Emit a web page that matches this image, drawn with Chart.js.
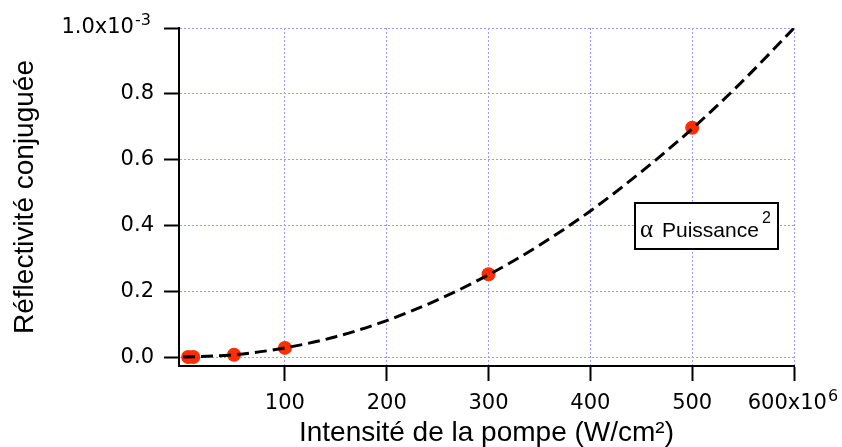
<!DOCTYPE html>
<html>
<head>
<meta charset="utf-8">
<script src="https://cdn.jsdelivr.net/npm/chart.js@4/dist/chart.umd.min.js"></script>
<style>
    html, body { margin: 0; padding: 0; background: #ffffff; }
    #chart { display: block; }
</style>
</head>
<body>
<canvas id="chart" width="842" height="447"></canvas>
<script>
// Measured points (x in 10^6 W/cm2, y in 10^-3)
const pointX = [5, 10, 50, 100, 300, 500];
const pointY = [0.0002, 0.0004, 0.007, 0.028, 0.252, 0.697];

// Dashed "proportional to power squared" curve
const curveX = [0, 50, 100, 150, 200, 250, 300, 350, 400, 450, 500, 550, 600];
const curveY = [0, 0.007, 0.028, 0.062, 0.111, 0.174, 0.25, 0.34, 0.444, 0.563, 0.694, 0.84, 1.0];

// Axis ticks (exponents are drawn raised next to the last label)
const xTicks = [100, 200, 300, 400, 500, 600];
const xTickLabels = ['100', '200', '300', '400', '500', '600x10'];
const xExponent = '6';
const yTicks = [0, 0.2, 0.4, 0.6, 0.8, 1.0];
const yTickLabels = ['0.0', '0.2', '0.4', '0.6', '0.8', '1.0x10'];
const yExponent = '-3';

const COLORS = {
    marker: 'rgb(255, 45, 0)',
    grid: 'rgb(155, 155, 255)',
    axis: '#000000'
};

const TICK_FONT = { family: 'DejaVu Sans', size: 21 };
const SUP_FONT = '16px "DejaVu Sans"';
const TITLE_FONT = { family: 'Liberation Sans', size: 28, lineHeight: 1 };
const TICK_LEN = 15;
const TICK_PAD = 10;
const Y_GAP = '   ';
const X_GAP = '  ';

/**
 * Draws the raised exponents of the last tick labels
 */
const exponents = {
    id: 'exponents',
    afterDraw(chart) {
        const ctx = chart.ctx;
        const xs = chart.scales.x;
        const ys = chart.scales.y;
        const tickFont = TICK_FONT.size + 'px "' + TICK_FONT.family + '"';
        ctx.save();
        ctx.fillStyle = '#000000';
        ctx.textBaseline = 'alphabetic';
        ctx.textAlign = 'left';

        // y axis: label is right aligned, exponent fills the trailing gap
        ctx.font = tickFont;
        const yGapW = ctx.measureText(Y_GAP).width;
        const yRight = ys.right - TICK_LEN - TICK_PAD;
        const yTop = ys.getPixelForValue(yTicks[yTicks.length - 1]);
        ctx.font = SUP_FONT;
        ctx.fillText(yExponent, yRight - yGapW + 1, yTop - 3);

        // x axis: label is centred, exponent after the base text
        ctx.font = tickFont;
        const base = xTickLabels[xTickLabels.length - 1];
        const full = ctx.measureText(base + X_GAP).width;
        const baseW = ctx.measureText(base).width;
        const xc = xs.getPixelForValue(xTicks[xTicks.length - 1]);
        ctx.font = SUP_FONT;
        ctx.fillText(xExponent, xc - full / 2 + baseW + 1, xs.top + TICK_LEN + 20);
        ctx.restore();
    }
};

/**
 * Draws the boxed "α Puissance²" annotation
 */
const annotationBox = {
    id: 'annotationBox',
    afterDraw(chart) {
        const ctx = chart.ctx;
        ctx.save();
        ctx.fillStyle = '#ffffff';
        ctx.fillRect(635, 203, 143, 46);
        ctx.lineWidth = 2;
        ctx.strokeStyle = '#000000';
        ctx.strokeRect(635, 203, 143, 46);

        ctx.fillStyle = '#000000';
        ctx.textBaseline = 'alphabetic';
        ctx.textAlign = 'left';
        ctx.font = '25px "Liberation Serif"';
        ctx.fillText('\u03B1', 640, 237);
        ctx.font = '21px "Liberation Sans"';
        ctx.fillText('Puissance', 662, 237);
        ctx.font = '16px "Liberation Sans"';
        ctx.fillText('2', 762, 223);
        ctx.restore();
    }
};

const ctx = document.getElementById('chart');

new Chart(ctx, {
    type: 'scatter',
    data: {
        datasets: [
            {
                // index 0 is drawn last, so the dashed line sits over the markers
                data: curveX.map((x, i) => ({ x: x, y: curveY[i] })),
                showLine: true,
                borderColor: '#000000',
                borderWidth: 3,
                borderDash: [12, 6],
                pointRadius: 0,
                cubicInterpolationMode: 'monotone',
                fill: false
            },
            {
                data: pointX.map((x, i) => ({ x: x, y: pointY[i] })),
                showLine: false,
                pointRadius: 7,
                pointBackgroundColor: COLORS.marker,
                pointBorderWidth: 0,
                clip: false
            }
        ]
    },
    options: {
        responsive: false,
        animation: false,
        devicePixelRatio: 1,
        layout: {
            padding: { left: 0, right: 48, top: 28, bottom: 0 }
        },
        plugins: {
            legend: { display: false },
            tooltip: { enabled: false }
        },
        scales: {
            x: {
                type: 'linear',
                min: -4,
                max: 600,
                afterBuildTicks: function(scale) {
                    scale.ticks = xTicks.map(v => ({ value: v }));
                },
                afterFit: function(scale) {
                    scale.height = 81;
                    scale.paddingLeft = 0;
                    scale.paddingRight = 0;
                },
                grid: {
                    color: COLORS.grid,
                    lineWidth: 1,
                    tickColor: COLORS.axis,
                    tickWidth: 2,
                    tickLength: TICK_LEN,
                    tickBorderDash: []
                },
                border: {
                    color: COLORS.axis,
                    width: 2,
                    dash: [2, 2]
                },
                ticks: {
                    font: TICK_FONT,
                    color: '#000000',
                    padding: TICK_PAD,
                    maxRotation: 0,
                    autoSkip: false,
                    callback: function(value, index) {
                        // room for the exponent after the last label
                        return index === xTickLabels.length - 1 ? xTickLabels[index] + X_GAP : xTickLabels[index];
                    }
                },
                title: {
                    display: true,
                    text: 'Intensité de la pompe (W/cm\u00B2)',
                    font: TITLE_FONT,
                    color: '#000000',
                    padding: { top: 0, bottom: 0 }
                }
            },
            y: {
                type: 'linear',
                min: -0.027,
                max: 1.0,
                afterBuildTicks: function(scale) {
                    scale.ticks = yTicks.map(v => ({ value: v }));
                },
                afterFit: function(scale) {
                    scale.width = 179;
                    scale.paddingTop = 0;
                    scale.paddingBottom = 0;
                },
                grid: {
                    color: COLORS.grid,
                    lineWidth: 1,
                    tickColor: COLORS.axis,
                    tickWidth: 2,
                    tickLength: TICK_LEN,
                    tickBorderDash: []
                },
                border: {
                    color: COLORS.axis,
                    width: 2,
                    dash: [2, 2]
                },
                ticks: {
                    font: TICK_FONT,
                    color: '#000000',
                    padding: TICK_PAD,
                    autoSkip: false,
                    callback: function(value, index) {
                        return index === yTickLabels.length - 1 ? yTickLabels[index] + Y_GAP : yTickLabels[index];
                    }
                },
                title: {
                    display: true,
                    text: 'Réflectivité conjuguée',
                    font: TITLE_FONT,
                    color: '#000000',
                    padding: { top: 11, bottom: 0 }
                }
            }
        }
    },
    plugins: [exponents, annotationBox]
});
</script>
</body>
</html>
